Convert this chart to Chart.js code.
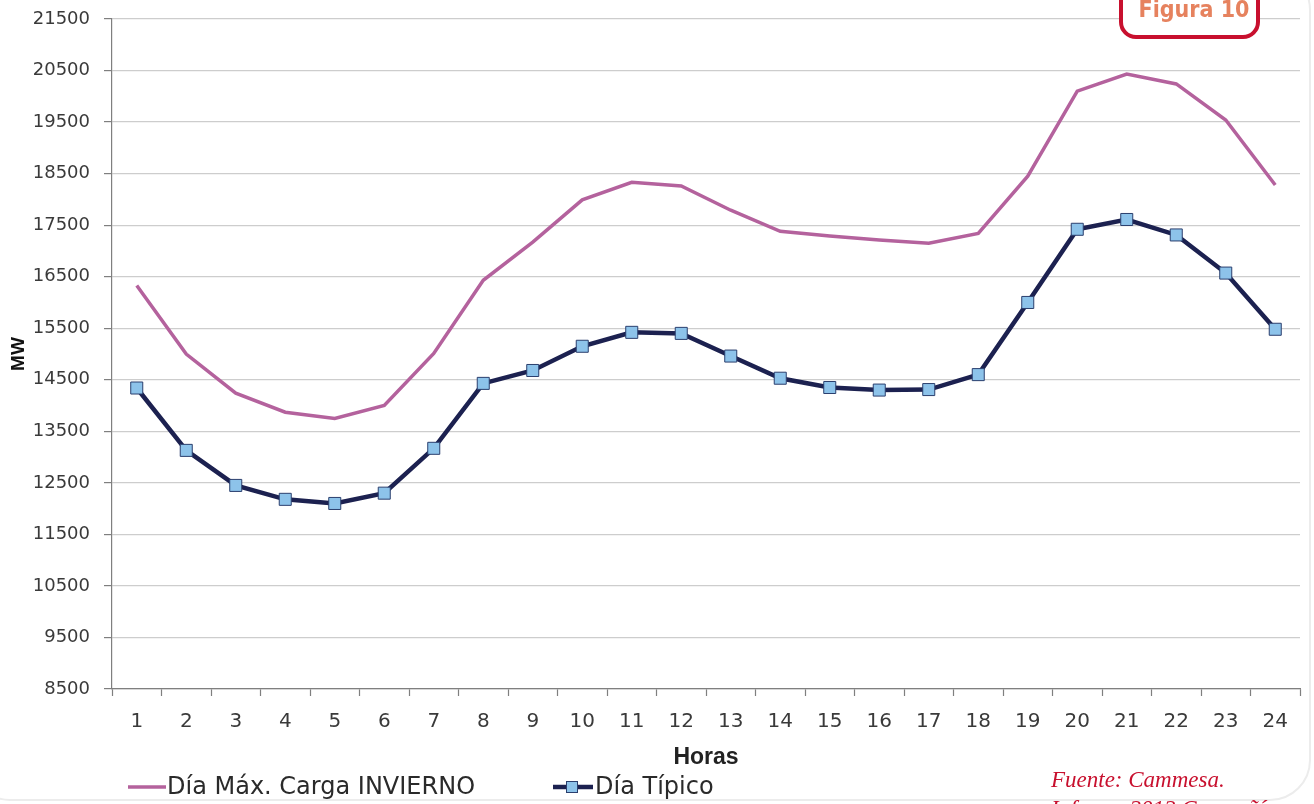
<!DOCTYPE html>
<html lang="es">
<head>
<meta charset="utf-8">
<title>Curva de carga horaria</title>
<script src="https://cdn.jsdelivr.net/npm/chart.js@4.4.1/dist/chart.umd.min.js"></script>
<style>
  html, body { margin: 0; padding: 0; background: #ffffff; }
  #wrap { position: relative; width: 1314px; height: 804px; }
  canvas { display: block; }
</style>
</head>
<body>
<div id="wrap"><canvas id="chart" width="1314" height="804"></canvas></div>
<script>
// Hour of day (category axis)
const horas = ['1','2','3','4','5','6','7','8','9','10','11','12','13','14','15','16','17','18','19','20','21','22','23','24'];

// Hourly demand, MW
const maxCargaInvierno = [16330, 15000, 14240, 13870, 13750, 14000, 15010, 16430, 17170, 17990, 18330, 18260, 17790, 17380, 17290, 17210, 17150, 17340, 18450, 20100, 20430, 20240, 19540, 18280];
const diaTipico = [14340, 13130, 12450, 12180, 12100, 12300, 13170, 14430, 14680, 15150, 15420, 15400, 14960, 14530, 14350, 14300, 14310, 14600, 16000, 17420, 17610, 17310, 16570, 15480];

// Value axis range and step
const yMin = 8500;
const yMax = 21500;
const yStep = 1000;

const serieNombres = ['Día Máx. Carga INVIERNO', 'Día Típico'];
const tituloX = 'Horas';
const tituloY = 'MW';
const etiquetaFigura = 'Figura 10';
const fuenteLineas = ['Fuente: Cammesa.', 'Informe 2012 Compañía'];

const PURPLE = '#b4629d';
const NAVY = '#1c2150';
const MARKER_FILL = '#8dc3ea';
const MARKER_EDGE = '#2b3f6e';
const AXIS = '#7f7f7f';
const GRID = '#cdcdcd';
const TEXT = '#3a3a3a';
const RED = '#c8102e';

// Custom legend, "Figura" tag, source note and a faint page frame
const decorations = {
  id: 'decorations',
  beforeDraw(chart) {
    const ctx = chart.ctx;
    ctx.save();
    ctx.strokeStyle = '#ececec';
    ctx.lineWidth = 2;
    ctx.beginPath();
    ctx.roundRect(-30, -30, 1340, 830, 40);
    ctx.stroke();
    ctx.restore();
  },
  afterDraw(chart) {
    const ctx = chart.ctx;
    const ds = chart.data.datasets;
    ctx.save();

    // legend
    const ly = 787;
    ctx.font = '24px "DejaVu Sans"';
    ctx.fillStyle = '#2a2a2a';
    ctx.textBaseline = 'middle';
    ctx.textAlign = 'left';

    ctx.strokeStyle = ds[0].borderColor;
    ctx.lineWidth = ds[0].borderWidth;
    ctx.beginPath();
    ctx.moveTo(128, ly); ctx.lineTo(166, ly);
    ctx.stroke();
    ctx.fillText(ds[0].label, 167, ly + 1);

    ctx.strokeStyle = ds[1].borderColor;
    ctx.lineWidth = ds[1].borderWidth;
    ctx.beginPath();
    ctx.moveTo(553, ly); ctx.lineTo(593, ly);
    ctx.stroke();
    ctx.fillStyle = ds[1].pointBackgroundColor;
    ctx.strokeStyle = ds[1].pointBorderColor;
    ctx.lineWidth = 1;
    ctx.fillRect(566, ly - 6, 12, 12);
    ctx.strokeRect(566.5, ly - 5.5, 11, 11);
    ctx.fillStyle = '#2a2a2a';
    ctx.fillText(ds[1].label, 595, ly + 1);

    // "Figura" tag
    ctx.beginPath();
    ctx.roundRect(1121, -14, 137, 51, 15);
    ctx.fillStyle = '#ffffff';
    ctx.fill();
    ctx.lineWidth = 4;
    ctx.strokeStyle = RED;
    ctx.stroke();
    ctx.fillStyle = '#e6825e';
    ctx.font = 'bold 23px "DejaVu Sans Condensed"';
    ctx.textAlign = 'center';
    ctx.textBaseline = 'alphabetic';
    ctx.fillText(etiquetaFigura, 1194, 17);

    // source note
    ctx.fillStyle = RED;
    ctx.font = 'italic 23px "Liberation Serif"';
    ctx.textAlign = 'left';
    ctx.fillText(fuenteLineas[0], 1051, 787);
    ctx.fillText(fuenteLineas[1], 1051, 816);

    ctx.restore();
  }
};

new Chart(document.getElementById('chart'), {
  type: 'line',
  data: {
    labels: horas,
    datasets: [
      {
        label: serieNombres[0],
        data: maxCargaInvierno,
        borderColor: PURPLE,
        backgroundColor: PURPLE,
        borderWidth: 3.5,
        pointRadius: 0,
        pointHoverRadius: 0,
        tension: 0,
        fill: false
      },
      {
        label: serieNombres[1],
        data: diaTipico,
        borderColor: NAVY,
        backgroundColor: NAVY,
        borderWidth: 4.5,
        pointStyle: 'rect',
        pointRadius: 8.5,
        pointHoverRadius: 8.5,
        pointBackgroundColor: MARKER_FILL,
        pointBorderColor: MARKER_EDGE,
        pointBorderWidth: 1,
        tension: 0,
        fill: false
      }
    ]
  },
  options: {
    responsive: false,
    animation: false,
    devicePixelRatio: 1,
    layout: { padding: { top: 19, right: 14, bottom: 30, left: 0 } },
    plugins: {
      legend: { display: false },
      tooltip: { enabled: false }
    },
    scales: {
      x: {
        type: 'category',
        offset: true,
        afterFit(scale) { scale.height = 85; },
        grid: {
          offset: true,
          drawOnChartArea: false,
          drawTicks: true,
          tickLength: 7,
          tickColor: AXIS,
          tickWidth: 1.2
        },
        border: { color: AXIS, width: 1.2 },
        ticks: {
          color: TEXT,
          font: { family: '"DejaVu Sans"', size: 20 },
          padding: 14,
          maxRotation: 0,
          autoSkip: false
        },
        title: {
          display: true,
          text: tituloX,
          color: '#222222',
          font: { family: '"Liberation Sans"', size: 23, weight: 'bold' },
          padding: { top: 0, bottom: 3 }
        }
      },
      y: {
        min: yMin,
        max: yMax,
        afterFit(scale) {
          scale.width = 112;
          scale.paddingTop = 0;
          scale.paddingBottom = 0;
        },
        grid: {
          color: GRID,
          lineWidth: 1.2,
          drawTicks: true,
          tickLength: 8,
          tickColor: AXIS,
          tickWidth: 1.2
        },
        border: { color: AXIS, width: 1.2 },
        ticks: {
          stepSize: yStep,
          color: TEXT,
          font: { family: '"DejaVu Sans"', size: 18 },
          padding: 14,
          callback: (v) => String(v)
        },
        title: {
          display: true,
          text: tituloY,
          color: '#111111',
          font: { family: '"Liberation Sans"', size: 19, weight: 'bold' },
          padding: { top: 7, bottom: 0 }
        }
      }
    }
  },
  plugins: [decorations]
});
</script>
</body>
</html>
